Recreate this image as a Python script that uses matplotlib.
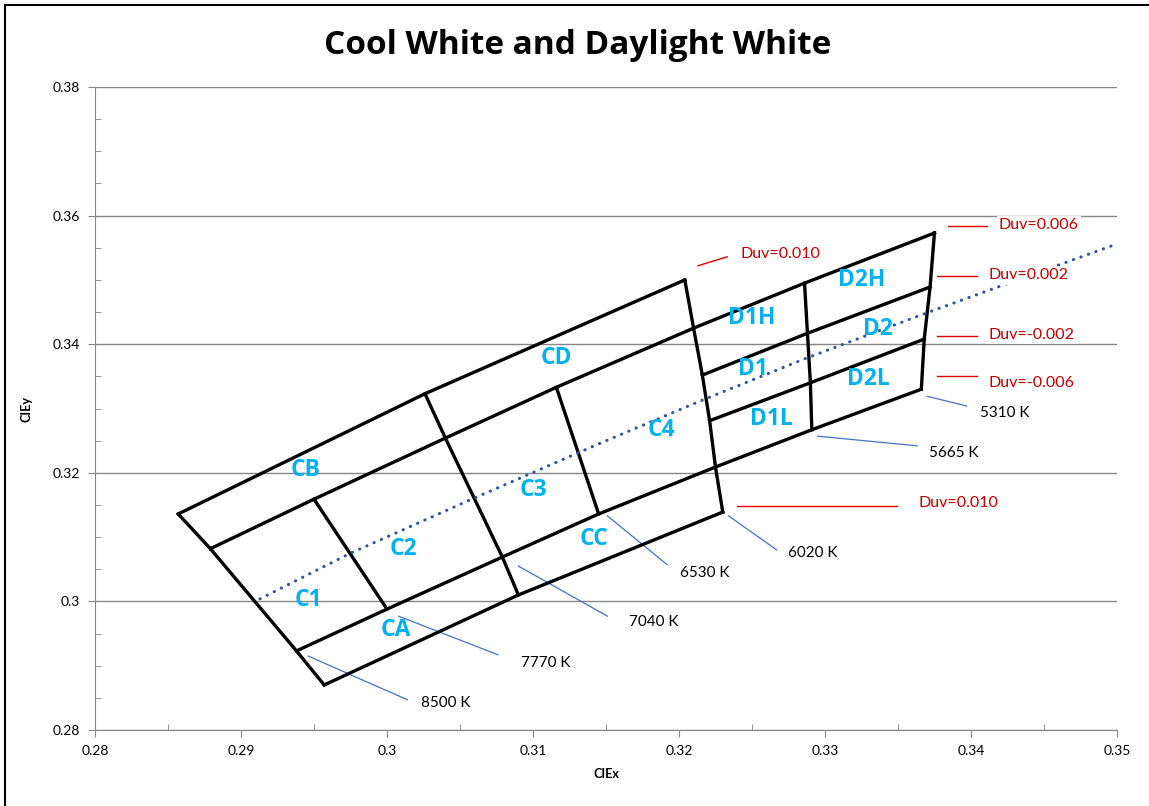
import matplotlib
matplotlib.use("Agg")
import matplotlib.pyplot as plt
from matplotlib.lines import Line2D

plt.rcParams['font.family'] = ['Lato', 'DejaVu Sans']

# ---- 数据：色度坐标 (CIE x, y) ----
# Duv 方向的边界线
c_top_x = [0.2857, 0.3026, 0.3204]
c_top_y = [0.3136, 0.3323, 0.3500]
upper_x = [0.2879, 0.2950, 0.3040, 0.3116, 0.3210, 0.3286, 0.3375]
upper_y = [0.3082, 0.3159, 0.3254, 0.3333, 0.3425, 0.3495, 0.3573]
d_hi_x = [0.3216, 0.3288, 0.3372]
d_hi_y = [0.3352, 0.3417, 0.3489]
d_lo_x = [0.3221, 0.3290, 0.3368]
d_lo_y = [0.3281, 0.3340, 0.3408]
lower_x = [0.2938, 0.3000, 0.3079, 0.3145, 0.3225, 0.3291, 0.3366]
lower_y = [0.2923, 0.2988, 0.3069, 0.3136, 0.3209, 0.3267, 0.3330]
c_bot_x = [0.2957, 0.3090, 0.3230]
c_bot_y = [0.2870, 0.3010, 0.3139]

# 等色温线
iso_8500_x = [0.2857, 0.2879, 0.2938, 0.2957]
iso_8500_y = [0.3136, 0.3082, 0.2923, 0.2870]
iso_7770_x = [0.2950, 0.3000]
iso_7770_y = [0.3159, 0.2988]
iso_7040_x = [0.3026, 0.3040, 0.3079, 0.3090]
iso_7040_y = [0.3323, 0.3254, 0.3069, 0.3010]
iso_6530_x = [0.3116, 0.3145]
iso_6530_y = [0.3333, 0.3136]
iso_6020_x = [0.3204, 0.3210, 0.3216, 0.3221, 0.3225, 0.3230]
iso_6020_y = [0.3500, 0.3425, 0.3352, 0.3281, 0.3209, 0.3139]
iso_5665_x = [0.3286, 0.3288, 0.3290, 0.3291]
iso_5665_y = [0.3495, 0.3417, 0.3340, 0.3267]
iso_5310_x = [0.3375, 0.3372, 0.3368, 0.3366]
iso_5310_y = [0.3573, 0.3489, 0.3408, 0.3330]

# 黑体轨迹 (Planckian locus)
bbl_x = [0.2913, 0.2975, 0.3057, 0.3146, 0.3216, 0.3288, 0.3370, 0.3416, 0.3500]
bbl_y = [0.3004, 0.3075, 0.3158, 0.3246, 0.3313, 0.3379, 0.3449, 0.3487, 0.3556]

# 分档名称及位置
bin_names = ['CB', 'CD', 'C1', 'C2', 'C3', 'C4', 'CA', 'CC',
             'D1H', 'D2H', 'D1', 'D2', 'D1L', 'D2L']
bin_x = [0.2944, 0.3116, 0.2946, 0.3011, 0.3100, 0.3188, 0.3006, 0.3142,
         0.3250, 0.3325, 0.3251, 0.3336, 0.3263, 0.3330]
bin_y = [0.3204, 0.3379, 0.3002, 0.3082, 0.3173, 0.3267, 0.2956, 0.3097,
         0.3441, 0.3500, 0.3361, 0.3424, 0.3284, 0.3346]

# 色温标注
cct_labels = ['8500 K', '7770 K', '7040 K', '6530 K', '6020 K', '5665 K', '5310 K']
cct_px = [0.2946, 0.3008, 0.3090, 0.3151, 0.3234, 0.3295, 0.3370]
cct_py = [0.2915, 0.2977, 0.3055, 0.3133, 0.3133, 0.3257, 0.3319]
cct_ex = [0.3014, 0.3076, 0.3151, 0.3192, 0.3267, 0.3363, 0.3397]
cct_ey = [0.2847, 0.2917, 0.2977, 0.3057, 0.3080, 0.3242, 0.3304]
cct_tx = [0.3023, 0.3092, 0.3166, 0.3201, 0.3275, 0.3371, 0.3406]
cct_ty = [0.2842, 0.2904, 0.2968, 0.3044, 0.3075, 0.3231, 0.3293]

# Duv 标注
duv_labels = ['Duv=0.010', 'Duv=0.006', 'Duv=0.002', 'Duv=-0.002', 'Duv=-0.006', 'Duv=0.010']
duv_x1 = [0.3213, 0.3384, 0.3377, 0.3377, 0.3377, 0.3240]
duv_y1 = [0.3522, 0.3584, 0.3506, 0.3413, 0.3351, 0.3148]
duv_x2 = [0.3233, 0.3411, 0.3404, 0.3404, 0.3404, 0.3349]
duv_y2 = [0.3536, 0.3584, 0.3506, 0.3413, 0.3351, 0.3148]
duv_tx = [0.3242, 0.3419, 0.3412, 0.3412, 0.3412, 0.3364]
duv_ty = [0.3540, 0.3585, 0.3507, 0.3414, 0.3340, 0.3153]

# 坐标轴刻度
x_ticks = [0.28, 0.29, 0.30, 0.31, 0.32, 0.33, 0.34, 0.35]
x_tick_labels = ['0.28', '0.29', '0.3', '0.31', '0.32', '0.33', '0.34', '0.35']
y_ticks = [0.28, 0.30, 0.32, 0.34, 0.36, 0.38]
y_tick_labels = ['0.28', '0.3', '0.32', '0.34', '0.36', '0.38']
x_minor = [0.285, 0.295, 0.305, 0.315, 0.325, 0.335, 0.345]
y_minor = [0.285, 0.29, 0.295, 0.305, 0.31, 0.315, 0.325, 0.33, 0.335,
           0.345, 0.35, 0.355, 0.365, 0.37, 0.375]

fig = plt.figure(figsize=(11.49, 8.06), dpi=100)
ax = fig.add_axes([0.0827, 0.0943, 0.8894, 0.7977])

grey = '#868686'
blk = dict(color='black', linewidth=2.4, solid_joinstyle='miter', zorder=3)

for xs, ys in [(c_top_x, c_top_y), (upper_x, upper_y), (d_hi_x, d_hi_y),
               (d_lo_x, d_lo_y), (lower_x, lower_y), (c_bot_x, c_bot_y),
               (iso_8500_x, iso_8500_y), (iso_7770_x, iso_7770_y),
               (iso_7040_x, iso_7040_y), (iso_6530_x, iso_6530_y),
               (iso_6020_x, iso_6020_y), (iso_5665_x, iso_5665_y),
               (iso_5310_x, iso_5310_y)]:
    ax.plot(xs, ys, **blk)

ax.plot(bbl_x, bbl_y, color='#2F5597', linewidth=2.2,
        linestyle=(0, (0.1, 2.5)), dash_capstyle='round', zorder=4)

for name, x, y in zip(bin_names, bin_x, bin_y):
    ax.text(x, y, name, color='#00B0F0', fontsize=16.5, fontweight='bold',
            family=['Open Sans', 'DejaVu Sans'],
            ha='center', va='center', zorder=5)

for i, lab in enumerate(cct_labels):
    ax.plot([cct_px[i], cct_ex[i]], [cct_py[i], cct_ey[i]], color='#4472C4',
            linewidth=0.9, zorder=2)
    ax.text(cct_tx[i], cct_ty[i], lab, fontsize=11, ha='left', va='center', zorder=5)

for i, lab in enumerate(duv_labels):
    ax.plot([duv_x1[i], duv_x2[i]], [duv_y1[i], duv_y2[i]], color='#E00000',
            linewidth=1.0, zorder=2)
    ax.text(duv_tx[i], duv_ty[i], lab, fontsize=11.5, color='#C00000',
            ha='left', va='center', zorder=6,
            bbox=dict(facecolor='white', edgecolor='none', pad=1.5))

ax.set_xlim(0.28, 0.35)
ax.set_ylim(0.28, 0.38)
ax.set_xticks(x_ticks, x_tick_labels)
ax.set_yticks(y_ticks, y_tick_labels)
ax.set_xticks(x_minor, minor=True)
ax.set_yticks(y_minor, minor=True)
ax.tick_params(which='major', direction='out', length=5, color=grey, labelsize=10, pad=6)
ax.tick_params(which='minor', direction='in', length=4, color=grey)
ax.grid(axis='y', which='major', color=grey, linewidth=1.0)
ax.set_axisbelow(True)
for s in ['top', 'right']:
    ax.spines[s].set_visible(False)
for s in ['left', 'bottom']:
    ax.spines[s].set_color(grey)
ax.set_xlabel('CIEx', fontsize=9, fontweight='bold', labelpad=8)
ax.set_ylabel('CIEy', fontsize=9, fontweight='bold', labelpad=14)

fig.text(0.503, 0.943, 'Cool White and Daylight White', fontsize=24,
         fontweight='bold', family=['Open Sans', 'DejaVu Sans'],
         ha='center', va='center')

# 图表外框
fig.add_artist(Line2D([5 / 1149, 5 / 1149], [0, 801 / 806], color='black', linewidth=1.5))
fig.add_artist(Line2D([5 / 1149, 1], [801 / 806, 801 / 806], color='black', linewidth=1.5))

fig.savefig('out.png', dpi=100)
